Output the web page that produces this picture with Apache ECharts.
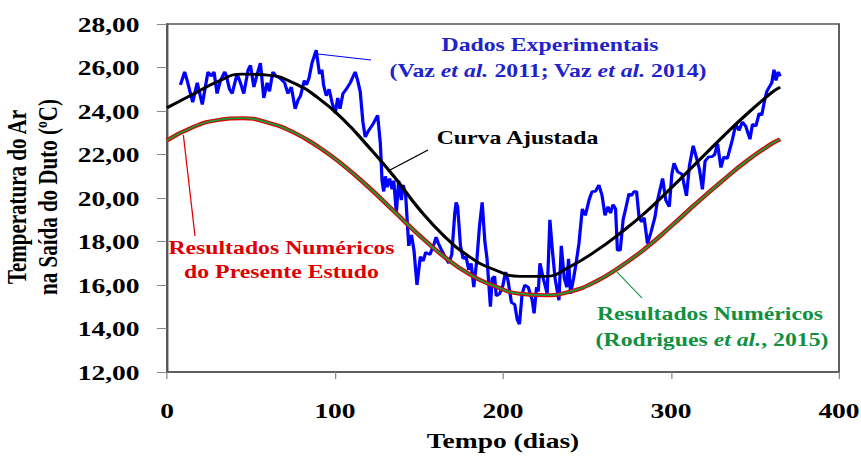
<!DOCTYPE html>
<html>
<head>
<meta charset="utf-8">
<script src="https://cdn.jsdelivr.net/npm/echarts@6/dist/echarts.min.js"></script>
<style>
html,body{margin:0;padding:0;background:#fff;overflow:hidden;width:861px;height:459px;}
#c{width:689px;height:459px;transform:scaleX(1.25);transform-origin:0 0;}
</style>
</head>
<body>
<div id="c"></div>
<script>
// ---- data ----
const dadosExperimentais = [
[8,25.2],[10.5,25.8],[12,25.4],[15.3,24.4],[18,25.3],[21,24.3],[24.4,25.8],[26.4,25.6],[28,25.8],[29.8,24.8],
[31.8,25.4],[34.4,25.8],[35.4,25.6],[37.2,25.0],[38.8,24.8],[41.7,25.7],[43.7,25.3],[45.7,24.8],[48.3,25.9],[49.7,26.1],
[51.7,25.1],[53.7,25.7],[55.6,26.2],[57.6,24.6],[59.6,25.3],[61,24.9],[63,25.8],[65,25.6],[67.4,25.5],[70,25.3],
[72,24.8],[74,25.1],[76.3,24.1],[78,24.5],[79.5,24.7],[81.7,25.4],[83,25.2],[84.5,25.5],[86.3,26.2],[88.8,26.8],
[90.8,25.7],[92.2,25.9],[93.2,25.2],[94.8,24.7],[96.5,25.0],[98.2,24.4],[100.2,23.9],[101.6,24.6],[103,24.1],[104.7,24.8],
[106.7,25.0],[109.1,25.3],[112,25.8],[113.5,25.4],[115,24.9],[116.6,23.5],[118,22.8],[120,23.1],[122.6,23.4],[125.4,23.8],
[127,22.5],[128,20.8],[129,20.3],[130,21.0],[131,20.5],[132.5,20.9],[134,20.4],[135,20.8],[136.5,19.3],[137.9,20.8],
[139.5,19.9],[140.5,20.6],[142,20.2],[143.9,17.8],[145.5,18.3],[147,17.6],[148.8,16.0],[150.8,17.3],[152.5,17.1],[154,17.5],
[156.5,17.4],[159,17.9],[160.2,18.2],[161.6,17.9],[163.5,17.6],[165.5,17.3],[167.7,17.0],[169.5,17.4],[171.3,19.3],[172.1,19.8],
[173,19.6],[174.7,17.8],[176.3,17.2],[178,17.3],[179.6,16.7],[181,17.0],[182.6,15.9],[184.5,17.2],[186,18.7],[187.6,19.8],
[189.2,18.0],[190.5,17.2],[192.5,15.0],[193.6,16.3],[195,16.4],[196,15.5],[198,15.6],[200,16.0],[201.5,16.6],[203,16.2],
[205,15.2],[207,15.1],[208.5,14.4],[209.8,14.2],[211.4,15.6],[213,16.0],[215,15.9],[217.4,15.3],[218.5,14.7],[220,15.9],
[221,15.7],[222,17.0],[224,16.3],[226.3,15.6],[227.9,19.0],[229.5,17.5],[231,16.3],[233.3,15.3],[234.7,17.8],[236.5,16.3],
[238,15.9],[239,17.2],[240.2,15.6],[242,16.3],[243.5,17.0],[245.2,17.9],[247.2,19.5],[249,19.2],[251.2,19.9],[253,20.3],
[255,20.3],[257.1,20.6],[259,20.1],[260.7,19.2],[262.5,19.6],[264,19.3],[265.5,19.7],[267,19.5],[268.1,17.6],[269.8,17.6],
[271.5,19.0],[273,19.5],[275,20.2],[276.5,20.1],[278,20.3],[279.5,20.3],[281,19.1],[282.5,18.9],[284,19.1],[286,17.9],
[288,18.4],[290.4,19.1],[292,19.9],[295,20.9],[296.9,19.9],[299,19.6],[300.5,21.1],[301.8,21.6],[304,21.2],[306.5,21.1],
[309.2,20.1],[311,21.5],[313.2,22.4],[315,21.9],[317,21.3],[318.7,20.4],[320.3,21.7],[322.5,21.9],[324.5,21.9],[326,22.0],
[327.7,22.5],[329.7,21.4],[331.5,21.9],[333.5,21.8],[336.6,22.7],[338.6,23.4],[340.5,23.1],[342.5,23.5],[344.5,23.3],[347,22.7],
[348.5,23.4],[350.5,23.3],[352.5,23.9],[354,23.8],[355.5,24.4],[357,24.9],[358.5,25.1],[360,25.3],[361.3,25.9],[362.5,25.4],
[363.8,25.8],[365,25.6]
];
const curveDays = [0,15,30,45,60,75,90,105,120,135,150,165,180,195,210,225,240,255,270,285,300,315,330,345,360,365];
const curvaAjustada = [24.15,24.75,25.35,25.7,25.65,25.3,24.6,23.6,22.35,21.0,19.5,18.25,17.3,16.7,16.4,16.4,16.85,17.55,18.4,19.35,20.45,21.6,22.75,23.85,24.85,25.1];
const presenteEstudo = [22.65,23.24,23.58,23.67,23.47,23.03,22.36,21.5,20.5,19.4,18.3,17.3,16.5,15.95,15.6,15.53,15.7,16.15,16.85,17.7,18.7,19.75,20.75,21.7,22.5,22.7];
const rodrigues2015 = [22.65,23.24,23.58,23.67,23.47,23.03,22.36,21.5,20.5,19.4,18.3,17.3,16.5,15.95,15.6,15.53,15.7,16.15,16.85,17.7,18.7,19.75,20.75,21.7,22.5,22.7];
const xTicks = [0,100,200,300,400];
const yTicks = [12,14,16,18,20,22,24,26,28];

// ---- chart ----
const pairs = (xs, ys) => xs.map((x, i) => [x, ys[i]]);
const F = '"Liberation Serif","Times New Roman",serif';
const chart = echarts.init(document.getElementById('c'), null, {renderer: 'svg'});
chart.setOption({
  animation: false,
  backgroundColor: '#fff',
  grid: {left: 133.6, right: 17.8, top: 24, bottom: 87, show: true, borderColor: '#555', borderWidth: 1.5, outerBoundsMode: 'none'},
  xAxis: {
    type: 'value', min: xTicks[0], max: xTicks[xTicks.length - 1], interval: 100,
    name: 'Tempo (dias)', nameLocation: 'middle', nameGap: 57,
    nameTextStyle: {fontFamily: F, fontWeight: 'bold', fontSize: 22, color: '#000'},
    axisLine: {lineStyle: {color: '#555', width: 1.5}},
    axisTick: {show: true, length: 7, lineStyle: {color: '#888'}},
    axisLabel: {fontFamily: F, fontWeight: 'bold', fontSize: 22, color: '#000', margin: 27},
    splitLine: {show: false}
  },
  yAxis: {
    type: 'value', min: yTicks[0], max: yTicks[yTicks.length - 1], interval: 2,
    axisLine: {show: true, lineStyle: {color: '#555', width: 1.5}},
    axisTick: {show: true, length: 8, lineStyle: {color: '#888'}},
    axisLabel: {fontFamily: F, fontWeight: 'bold', fontSize: 22, color: '#000', margin: 22,
      formatter: v => v.toFixed(2).replace('.', ',')},
    splitLine: {show: false}
  },
  series: [
    {type: 'line', data: dadosExperimentais, showSymbol: false, lineStyle: {color: '#0000FF', width: 2.6}, z: 2},
    {type: 'line', data: pairs(curveDays, curvaAjustada), smooth: true, showSymbol: false, lineStyle: {color: '#000', width: 2.8}, z: 3},
    {type: 'line', data: pairs(curveDays, presenteEstudo), smooth: true, showSymbol: false, lineStyle: {color: '#E00000', width: 4}, z: 3},
    {type: 'line', data: pairs(curveDays, rodrigues2015), smooth: true, showSymbol: false, lineStyle: {color: '#1A9A3A', width: 1.8}, z: 4}
  ],
  graphic: [
    {type: 'text', x: 26.4, y: 197, rotation: Math.PI / 2,
      style: {text: 'Temperatura do Ar\nna Saída do Duto (ºC)', font: 'bold 21px ' + F, fill: '#000', align: 'center', verticalAlign: 'middle', lineHeight: 25}},
    {type: 'text', x: 440, y: 45,
      style: {text: 'Dados Experimentais', font: 'bold 19px ' + F, fill: '#2222CC', align: 'center', verticalAlign: 'middle'}},
    {type: 'text', x: 438.4, y: 71,
      style: {text: '{n|(Vaz }{i|et al.}{n| 2011; Vaz }{i|et al.}{n| 2014)}', align: 'center', verticalAlign: 'middle',
        rich: {n: {font: 'bold 19px ' + F, fill: '#2222CC'}, i: {font: 'italic bold 19px ' + F, fill: '#2222CC'}}}},
    {type: 'text', x: 414, y: 138,
      style: {text: 'Curva Ajustada', font: 'bold 19px ' + F, fill: '#000', align: 'center', verticalAlign: 'middle'}},
    {type: 'text', x: 225.2, y: 260,
      style: {text: 'Resultados Numéricos\ndo Presente Estudo', font: 'bold 19px ' + F, fill: '#DD0000', align: 'center', verticalAlign: 'middle', lineHeight: 24}},
    {type: 'text', x: 568, y: 314,
      style: {text: 'Resultados Numéricos', font: 'bold 19px ' + F, fill: '#109040', align: 'center', verticalAlign: 'middle'}},
    {type: 'text', x: 569.6, y: 340,
      style: {text: '{n|(Rodrigues }{i|et al.}{n|, 2015)}', align: 'center', verticalAlign: 'middle',
        rich: {n: {font: 'bold 19px ' + F, fill: '#109040'}, i: {font: 'italic bold 19px ' + F, fill: '#109040'}}}},
    {type: 'line', shape: {x1: 254.4, y1: 54, x2: 296.8, y2: 60}, style: {stroke: '#0000FF', lineWidth: 1}},
    {type: 'line', shape: {x1: 312, y1: 170, x2: 342.4, y2: 150}, style: {stroke: '#000', lineWidth: 1}},
    {type: 'line', shape: {x1: 146.7, y1: 135, x2: 156, y2: 236}, style: {stroke: '#E00000', lineWidth: 1}},
    {type: 'line', shape: {x1: 493.6, y1: 272, x2: 513.6, y2: 298}, style: {stroke: '#109040', lineWidth: 1}}
  ]
});
</script>
</body>
</html>
